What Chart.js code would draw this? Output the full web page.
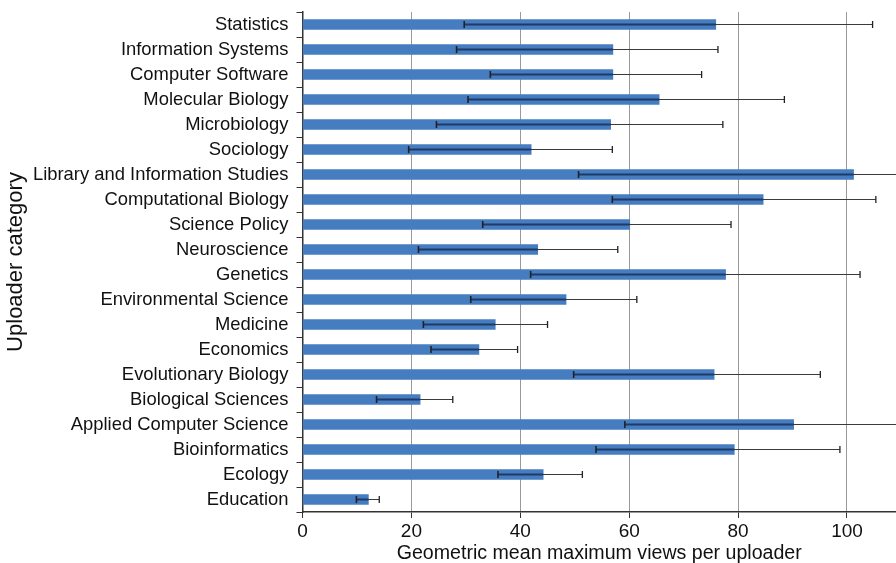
<!DOCTYPE html>
<html>
<head>
<meta charset="utf-8">
<script src="https://cdn.jsdelivr.net/npm/chart.js@4/dist/chart.umd.min.js"></script>
<style>
  html, body { margin: 0; padding: 0; background: #ffffff; }
  #wrap { width: 896px; height: 563px; }
</style>
</head>
<body>
<div id="wrap"><canvas id="c" width="896" height="563"></canvas></div>
<script>
const categories = [
  "Statistics", "Information Systems", "Computer Software", "Molecular Biology",
  "Microbiology", "Sociology", "Library and Information Studies", "Computational Biology",
  "Science Policy", "Neuroscience", "Genetics", "Environmental Science", "Medicine",
  "Economics", "Evolutionary Biology", "Biological Sciences", "Applied Computer Science",
  "Bioinformatics", "Ecology", "Education"
];
const meanViews = [75.9, 57.0, 57.0, 65.5, 56.6, 42.0, 101.2, 84.6, 60.1, 43.2,
                   77.7, 48.4, 35.4, 32.4, 75.6, 21.6, 90.2, 79.3, 44.2, 12.1];
const lowerBound = [29.7, 28.3, 34.5, 30.4, 24.6, 19.5, 50.7, 56.9, 33.1, 21.3,
                    41.9, 30.9, 22.2, 23.6, 49.8, 13.6, 59.2, 53.9, 35.9, 9.9];
const upperBound = [104.7, 76.3, 73.3, 88.5, 77.2, 56.9, 140.0, 105.3, 78.7, 57.9,
                    102.4, 61.4, 45.0, 39.5, 95.1, 27.6, 118.0, 98.7, 51.4, 14.1];
const xTickValues = [0, 20, 40, 60, 80, 100];

const FONT = "'Liberation Sans', Arial, Helvetica, sans-serif";

const errorBars = {
  id: 'errorBars',
  afterDatasetsDraw(chart) {
    const ctx = chart.ctx;
    const xs = chart.scales.x, ys = chart.scales.y;
    const a = chart.chartArea;
    ctx.save();
    ctx.beginPath();
    ctx.rect(a.left, a.top - 5, a.right - a.left, a.bottom - a.top + 10);
    ctx.clip();
    for (let i = 0; i < categories.length; i++) {
      const y = ys.getPixelForValue(i);
      const xl = xs.getPixelForValue(lowerBound[i]);
      const xm = xs.getPixelForValue(meanViews[i]);
      const xh = xs.getPixelForValue(upperBound[i]);
      ctx.strokeStyle = '#3a3a3a';
      ctx.lineWidth = 1.2;
      ctx.beginPath(); ctx.moveTo(xl, y); ctx.lineTo(xh, y); ctx.stroke();
      ctx.strokeStyle = '#1e3a66';
      ctx.lineWidth = 2;
      ctx.beginPath(); ctx.moveTo(xl, y); ctx.lineTo(Math.min(xm, xh), y); ctx.stroke();
      ctx.strokeStyle = '#222';
      ctx.lineWidth = 1.6;
      ctx.beginPath(); ctx.moveTo(xl, y - 3.5); ctx.lineTo(xl, y + 3.5); ctx.stroke();
      ctx.lineWidth = 1.3;
      ctx.beginPath(); ctx.moveTo(xh, y - 3.5); ctx.lineTo(xh, y + 3.5); ctx.stroke();
    }
    ctx.restore();
  }
};

new Chart(document.getElementById('c'), {
  type: 'bar',
  data: {
    labels: categories,
    datasets: [{
      data: meanViews,
      backgroundColor: '#467cc0',
      borderWidth: 0,
      barThickness: 10
    }]
  },
  options: {
    indexAxis: 'y',
    responsive: false,
    animation: false,
    devicePixelRatio: 1,
    layout: { padding: { top: 12, right: 0, bottom: 0, left: 0 } },
    plugins: { legend: { display: false }, tooltip: { enabled: false } },
    scales: {
      x: {
        type: 'linear',
        min: 0,
        max: 109,
        afterBuildTicks(s) { s.ticks = xTickValues.map(v => ({ value: v })); },
        afterFit(s) { s.height = 51; s.paddingLeft = 0; s.paddingRight = 0; },
        ticks: { color: '#111', font: { family: FONT, size: 19 }, padding: 2, maxRotation: 0, autoSkip: false },
        grid: { color: '#9a9a9a', lineWidth: 1, tickColor: '#333', tickLength: 6 },
        border: { color: '#333', width: 1.5 },
        title: { display: true, text: 'Geometric mean maximum views per uploader', color: '#111',
                 font: { family: FONT, size: 19.6, lineHeight: 1.0 }, padding: 0 }
      },
      y: {
        type: 'category',
        afterFit(s) { s.width = 302.5; s.paddingTop = 0; s.paddingBottom = 0; },
        ticks: { color: '#111', font: { family: FONT, size: 18.4 }, padding: 8, autoSkip: false },
        grid: { drawOnChartArea: false, color: '#333', tickColor: '#333', tickLength: 6, offset: true },
        border: { color: '#333', width: 1.5 },
        title: { display: true, text: 'Uploader category', color: '#111',
                 font: { family: FONT, size: 22, lineHeight: 1.2 }, padding: { top: 3, bottom: 0 } }
      }
    }
  },
  plugins: [errorBars]
});
</script>
</body>
</html>
